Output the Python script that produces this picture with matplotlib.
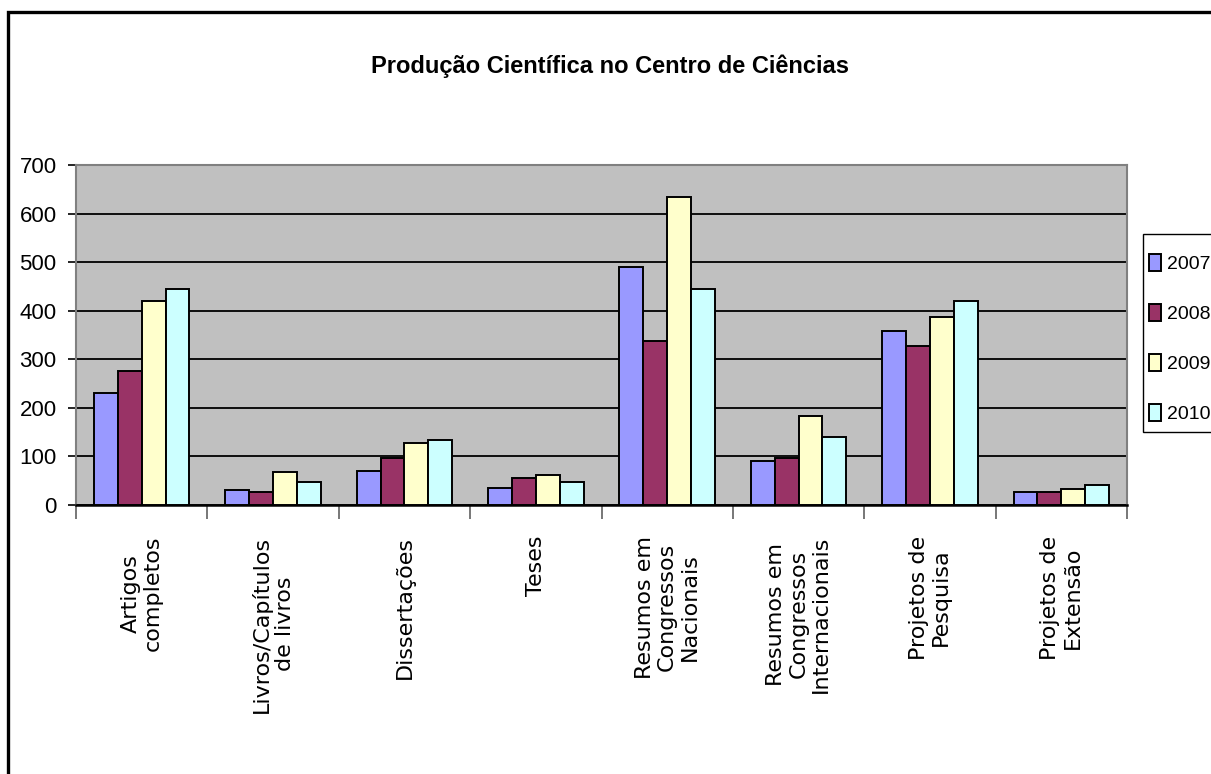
import matplotlib
matplotlib.use("Agg")
import numpy as np
import matplotlib.pyplot as plt
from matplotlib.patches import Rectangle


categories = [
    "Artigos\ncompletos",
    "Livros/Capítulos\nde livros",
    "Dissertações",
    "Teses",
    "Resumos em\nCongressos\nNacionais",
    "Resumos em\nCongressos\nInternacionais",
    "Projetos de\nPesquisa",
    "Projetos de\nExtensão",
]
years = ["2007", "2008", "2009", "2010"]

values_2007 = [230, 31, 71, 36, 491, 91, 358, 26]
values_2008 = [276, 26, 97, 56, 338, 97, 327, 26]
values_2009 = [419, 67, 128, 62, 634, 184, 388, 32]
values_2010 = [445, 47, 133, 47, 445, 139, 419, 42]

series = [values_2007, values_2008, values_2009, values_2010]
colors = ["#9999FF", "#993366", "#FFFFCC", "#CCFFFF"]

W, H = 1211, 774
SANS = ["Liberation Sans", "DejaVu Sans"]


def fx(px):
    return px / W


def fy(py):
    return 1 - py / H


def main():
    fig = plt.figure(figsize=(W / 100, H / 100), dpi=100)
    fig.patch.set_facecolor("white")

    # outer chart frame (runs off the right and bottom edges)
    fig.patches.append(Rectangle((fx(8), -0.05), 1.2, fy(12) + 0.05,
                                 transform=fig.transFigure, fill=False,
                                 edgecolor="black", linewidth=2.4, zorder=-1))

    ax = fig.add_axes([fx(76), fy(505), fx(1127 - 76), (505 - 165) / H])
    ax.set_facecolor("#C0C0C0")

    x = np.arange(len(categories))
    width = 1 / 5.5
    handles = []
    for i, (vals, color, year) in enumerate(zip(series, colors, years)):
        offset = (i - 1.5) * width
        bars = ax.bar(x + offset, vals, width, color=color, edgecolor="black",
                      linewidth=1.4, label=year, zorder=3)
        handles.append(bars)

    ax.set_xlim(-0.5, len(categories) - 0.5)
    ax.set_ylim(0, 700)
    ax.set_yticks(range(0, 701, 100))
    ax.yaxis.grid(True, color="black", linewidth=1.3, zorder=1)
    ax.set_axisbelow(True)

    for side in ["left", "top", "right"]:
        ax.spines[side].set_color("#808080")
        ax.spines[side].set_linewidth(1.5)
    ax.spines["bottom"].set_color("black")
    ax.spines["bottom"].set_linewidth(1.8)

    ax.tick_params(axis="y", direction="out", length=6, width=1.2, color="black",
                   pad=8)
    for lbl in ax.get_yticklabels():
        lbl.set_family(SANS)
        lbl.set_fontsize(16)

    # category separators as major ticks, names on minor ticks
    ax.set_xticks(np.arange(-0.5, len(categories), 1.0))
    ax.set_xticklabels([])
    ax.tick_params(axis="x", which="major", direction="out", length=10,
                   width=1.2, color="#606060")
    ax.set_xticks(x, minor=True)
    ax.set_xticklabels(categories, minor=True, rotation=90, fontsize=16,
                       family="DejaVu Sans", va="top", ha="center",
                       multialignment="center", linespacing=1.15)
    ax.tick_params(axis="x", which="minor", length=0, pad=22)

    fig.text(fx(610), fy(66), "Produção Científica no Centro de Ciências",
             ha="center", va="center", fontsize=17, fontweight="bold",
             family=SANS)

    # legend frame drawn separately so it can run past the right edge
    fig.patches.append(Rectangle((fx(1143), fy(432)), 0.2, (432 - 234) / H,
                                 transform=fig.transFigure, facecolor="white",
                                 edgecolor="black", linewidth=1.0, zorder=5))
    leg = fig.legend(handles, years, loc="upper left",
                     bbox_to_anchor=(fx(1149), fy(254)),
                     bbox_transform=fig.transFigure, borderaxespad=0,
                     frameon=False, borderpad=0,
                     prop={"family": SANS, "size": 14},
                     handlelength=0.62, handleheight=0.93, handletextpad=0.3,
                     labelspacing=1.6)
    leg.set_zorder(6)

    fig.savefig("out.png", dpi=100)
    plt.close(fig)


if __name__ == "__main__":
    main()
